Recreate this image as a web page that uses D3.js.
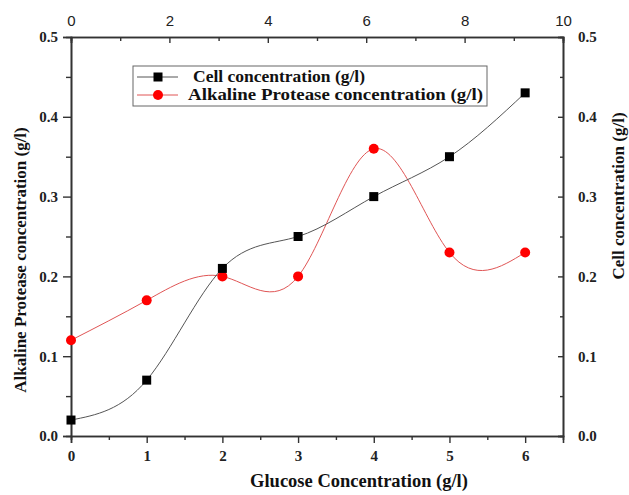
<!DOCTYPE html>
<html>
<head>
<meta charset="utf-8">
<script src="https://cdn.jsdelivr.net/npm/d3@7"></script>
<style>
  body { margin: 0; background: #fff; }
  .serif { font-family: "Liberation Serif", "Times New Roman", serif; font-weight: bold; }
</style>
</head>
<body>
<div id="chart"></div>
<script>
// data
const glucose = [0, 1, 2, 3, 4, 5, 6];
const cellConc = [0.02, 0.07, 0.21, 0.25, 0.30, 0.35, 0.43];
const proteaseConc = [0.12, 0.17, 0.20, 0.20, 0.36, 0.23, 0.23];
const bottomTicks = [0, 1, 2, 3, 4, 5, 6];
const topTicks = [0, 2, 4, 6, 8, 10];
const yTicks = [0, 0.1, 0.2, 0.3, 0.4, 0.5];
const legendLabels = ['Cell concentration (g/l)', 'Alkaline Protease concentration (g/l)'];

const width = 629, height = 495;
const margin = {top: 37, right: 66, bottom: 59, left: 71};

const svg = d3.select('#chart').append('svg')
    .attr('width', width)
    .attr('height', height);

const x = d3.scaleLinear().domain([0, 6.5]).range([margin.left, width - margin.right]);
const xTop = d3.scaleLinear().domain([0, 10]).range([margin.left, width - margin.right]);
const yLeft = d3.scaleLinear().domain([0, 0.5]).range([height - margin.bottom, margin.top]);
const yRight = d3.scaleLinear().domain([0, 0.5]).range([height - margin.bottom, margin.top]);

const axisColor = '#333';

function styleAxis(g) {
  g.select('.domain').attr('stroke', axisColor).attr('stroke-width', 1.6);
  g.selectAll('.tick line').attr('stroke', axisColor).attr('stroke-width', 1.4);
}

// minor ticks first (no labels)
svg.append('g')
    .attr('transform', `translate(0,${height - margin.bottom})`)
    .call(d3.axisBottom(x).tickValues(d3.range(0.5, 6.5, 1)).tickSize(4).tickFormat(''))
    .call(styleAxis);
svg.append('g')
    .attr('transform', `translate(0,${margin.top})`)
    .call(d3.axisTop(xTop).tickValues(d3.range(1, 10, 2)).tickSize(-4).tickFormat(''))
    .call(styleAxis);
svg.append('g')
    .attr('transform', `translate(${margin.left},0)`)
    .call(d3.axisLeft(yLeft).tickValues(d3.range(0.05, 0.5, 0.1)).tickSize(5).tickFormat(''))
    .call(styleAxis);
svg.append('g')
    .attr('transform', `translate(${width - margin.right},0)`)
    .call(d3.axisRight(yRight).tickValues(d3.range(0.05, 0.5, 0.1)).tickSize(-3).tickFormat(''))
    .call(styleAxis);

// major axes
const xAxisG = svg.append('g')
    .attr('transform', `translate(0,${height - margin.bottom})`)
    .call(d3.axisBottom(x).tickValues(bottomTicks).tickSize(7).tickPadding(7).tickFormat(d3.format('d')))
    .call(styleAxis);
xAxisG.selectAll('.tick text').attr('class', 'serif').attr('font-size', 15).attr('fill', '#222');

const topAxisG = svg.append('g')
    .attr('transform', `translate(0,${margin.top})`)
    .call(d3.axisTop(xTop).tickValues(topTicks).tickSize(-6).tickPadding(11).tickFormat(d3.format('d')))
    .call(styleAxis);
topAxisG.selectAll('.tick text')
    .attr('font-family', '"Liberation Sans", Arial, sans-serif')
    .attr('font-size', 15).attr('fill', '#222');

const yLeftG = svg.append('g')
    .attr('transform', `translate(${margin.left},0)`)
    .call(d3.axisLeft(yLeft).tickValues(yTicks).tickSize(8).tickPadding(5).tickFormat(d3.format('.1f')))
    .call(styleAxis);
yLeftG.selectAll('.tick text').attr('class', 'serif').attr('font-size', 15).attr('fill', '#222');

const yRightG = svg.append('g')
    .attr('transform', `translate(${width - margin.right},0)`)
    .call(d3.axisRight(yRight).tickValues(yTicks).tickSize(-5).tickPadding(15).tickFormat(d3.format('.1f')))
    .call(styleAxis);
yRightG.selectAll('.tick text').attr('class', 'serif').attr('font-size', 15).attr('fill', '#222');

// axis titles
svg.append('text')
    .attr('class', 'serif')
    .attr('x', 359)
    .attr('y', 487)
    .attr('text-anchor', 'middle')
    .attr('font-size', 18.5)
    .attr('fill', '#111')
    .text('Glucose Concentration (g/l)');

svg.append('text')
    .attr('class', 'serif')
    .attr('transform', 'translate(26,260) rotate(-90)')
    .attr('text-anchor', 'middle')
    .attr('font-size', 17)
    .attr('fill', '#111')
    .text('Alkaline Protease concentration (g/l)');

svg.append('text')
    .attr('class', 'serif')
    .attr('transform', 'translate(624,196) rotate(-90)')
    .attr('text-anchor', 'middle')
    .attr('font-size', 17)
    .attr('fill', '#111')
    .text('Cell concentration (g/l)');

// series
const cellData = glucose.map((g, i) => ({x: g, y: cellConc[i]}));
const protData = glucose.map((g, i) => ({x: g, y: proteaseConc[i]}));

const cellLine = d3.line().x(d => x(d.x)).y(d => yRight(d.y)).curve(d3.curveNatural);
const protLine = d3.line().x(d => x(d.x)).y(d => yLeft(d.y)).curve(d3.curveNatural);

svg.append('path')
    .datum(protData)
    .attr('d', protLine)
    .attr('fill', 'none')
    .attr('stroke', '#e05555')
    .attr('stroke-width', 1);

svg.append('path')
    .datum(cellData)
    .attr('d', cellLine)
    .attr('fill', 'none')
    .attr('stroke', '#555')
    .attr('stroke-width', 1);

svg.selectAll('.prot-pt')
    .data(protData)
    .join('circle')
    .attr('class', 'prot-pt')
    .attr('cx', d => x(d.x))
    .attr('cy', d => yLeft(d.y))
    .attr('r', 5)
    .attr('fill', '#ff0000');

svg.selectAll('.cell-pt')
    .data(cellData)
    .join('rect')
    .attr('class', 'cell-pt')
    .attr('x', d => x(d.x) - 4.5)
    .attr('y', d => yRight(d.y) - 4.5)
    .attr('width', 9)
    .attr('height', 9)
    .attr('fill', '#000');

// legend
const legend = svg.append('g');
legend.append('rect')
    .attr('x', 133).attr('y', 66)
    .attr('width', 354).attr('height', 40)
    .attr('fill', '#fff')
    .attr('stroke', '#666')
    .attr('stroke-width', 1);

const legendRows = [
  {label: legendLabels[0], y: 77, color: '#555', marker: 'square', tx: 193, len: 172},
  {label: legendLabels[1], y: 95, color: '#e05555', marker: 'circle', tx: 188, len: 295},
];

legendRows.forEach(r => {
  legend.append('line')
      .attr('x1', 137).attr('x2', 178)
      .attr('y1', r.y).attr('y2', r.y)
      .attr('stroke', r.color).attr('stroke-width', 1);
  if (r.marker === 'square') {
    legend.append('rect')
        .attr('x', 153.5).attr('y', r.y - 4.5)
        .attr('width', 9).attr('height', 9)
        .attr('fill', '#000');
  } else {
    legend.append('circle')
        .attr('cx', 158).attr('cy', r.y)
        .attr('r', 5).attr('fill', '#ff0000');
  }
  legend.append('text')
      .attr('class', 'serif')
      .attr('x', r.tx).attr('y', r.y + 5)
      .attr('font-size', 16)
      .attr('textLength', r.len)
      .attr('lengthAdjust', 'spacingAndGlyphs')
      .attr('fill', '#111')
      .text(r.label);
});
</script>
</body>
</html>
